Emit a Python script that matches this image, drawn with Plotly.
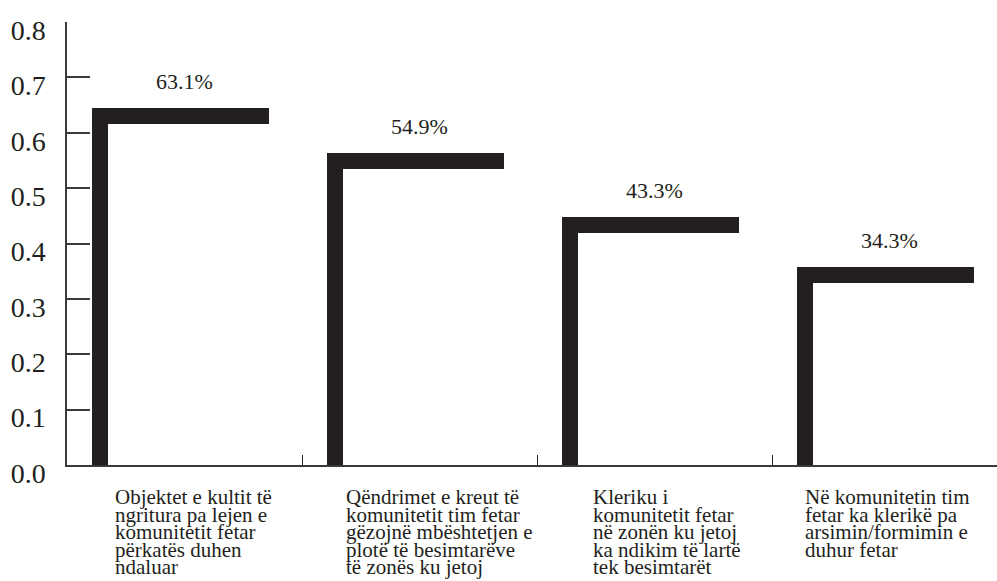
import plotly.graph_objects as go

# Survey statements (wrapped as printed) and share of agreement
categories = [
    ["Objektet e kultit të", "ngritura pa lejen e", "komunitetit fetar", "përkatës duhen", "ndaluar"],
    ["Qëndrimet e kreut të", "komunitetit tim fetar", "gëzojnë mbështetjen e", "plotë të besimtarëve", "të zonës ku jetoj"],
    ["Kleriku i", "komunitetit fetar", "në zonën ku jetoj", "ka ndikim të lartë", "tek besimtarët"],
    ["Në komunitetin tim", "fetar ka klerikë pa", "arsimin/formimin e", "duhur fetar"],
]
values = [0.631, 0.549, 0.433, 0.343]
value_labels = ["63.1%", "54.9%", "43.3%", "34.3%"]
y_ticks = [0.0, 0.1, 0.2, 0.3, 0.4, 0.5, 0.6, 0.7, 0.8]
y_tick_text = ["0.0", "0.1", "0.2", "0.3", "0.4", "0.5", "0.6", "0.7", "0.8"]

INK = "#231f20"
FONT = "Liberation Serif"

W, H = 997, 581
M_L, M_T, M_B, M_R = 67, 22, 116, 0
plot_w = W - M_L - M_R
plot_h = H - M_T - M_B
cat_px = 235.0                      # pixel width of one category slot
y_max = 0.8
px_per_unit = plot_h / y_max
stroke = 16.0                       # stroke thickness of the bracket marks (px)
half_t = (stroke / 2) / px_per_unit # half stroke in data units

bar_left = 25.0                     # left edge of mark within its slot (px)
bar_len = 177.0                     # length of the top stroke (px)
label_offsets = [47, 43, 55, 32]    # left edge of category text within slot (px)
line_step = 17.5                    # leading of category text (px)

n = len(values)
x_vert = [i + (bar_left + stroke / 2) / cat_px for i in range(n)]
x_horz = [i + (bar_left + bar_len / 2) / cat_px for i in range(n)]

fig = go.Figure()
# vertical stems
fig.add_trace(go.Bar(
    x=x_vert, y=[v + half_t for v in values], base=[0] * n,
    width=stroke / cat_px, marker=dict(color=INK, line=dict(width=0)),
    hoverinfo="skip", showlegend=False,
))
# top strokes, centred on each value
fig.add_trace(go.Bar(
    x=x_horz, y=[2 * half_t] * n, base=[v - half_t for v in values],
    width=bar_len / cat_px, marker=dict(color=INK, line=dict(width=0)),
    hoverinfo="skip", showlegend=False,
))

annotations = []
for i, (v, lab) in enumerate(zip(values, value_labels)):
    annotations.append(dict(
        x=i + 0.5, y=v, xref="x", yref="y", text=lab, showarrow=False,
        xanchor="center", yanchor="bottom", yshift=20,
        font=dict(family=FONT, size=22, color=INK),
    ))
for i, lines in enumerate(categories):
    for k, line in enumerate(lines):
        annotations.append(dict(
            x=i + label_offsets[i] / cat_px, y=0, xref="x", yref="y",
            text=line, showarrow=False, xanchor="left", yanchor="top",
            borderpad=0, yshift=-19 - line_step * k,
            font=dict(family=FONT, size=21, color=INK),
        ))

fig.update_layout(
    width=W, height=H,
    margin=dict(l=M_L, r=M_R, t=M_T, b=M_B, pad=0),
    paper_bgcolor="white", plot_bgcolor="white",
    barmode="overlay", bargap=0,
    annotations=annotations,
    xaxis=dict(
        range=[0, plot_w / cat_px], tickvals=[1, 2, 3], ticks="inside",
        ticklen=10, tickwidth=1.2, tickcolor=INK, showticklabels=False,
        showline=True, linecolor="#3a3a3a", linewidth=1.5,
        showgrid=False, zeroline=False, fixedrange=True,
    ),
    yaxis=dict(
        range=[0, y_max + 1e-9], tickvals=y_ticks, ticktext=y_tick_text,
        ticks="inside", ticklen=23, tickwidth=1.5, tickcolor="#3a3a3a",
        showline=True, linecolor="#3a3a3a", linewidth=1.5,
        showgrid=False, zeroline=False, ticklabelstandoff=14,
        ticklabelshift=8,
        tickfont=dict(family=FONT, size=28, color=INK), fixedrange=True,
    ),
)

fig.write_html("out.html")
